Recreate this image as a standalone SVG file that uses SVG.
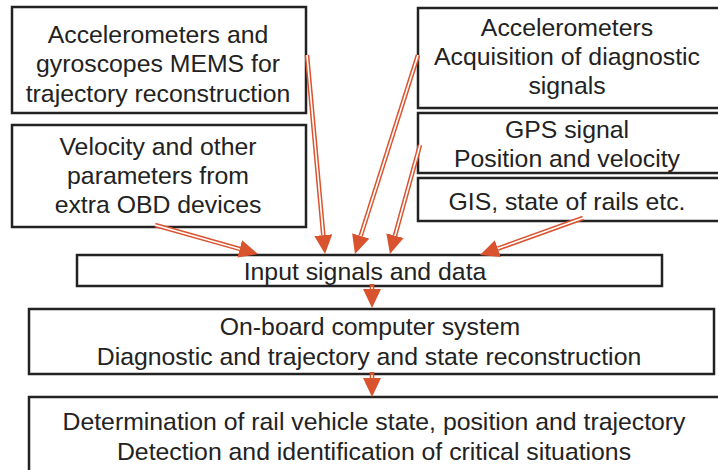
<svg xmlns="http://www.w3.org/2000/svg" width="718" height="470" viewBox="0 0 718 470">
<style>
.box{fill:#fff;stroke:#222;stroke-width:2.5}
text{font-family:"Liberation Sans",Arial,sans-serif;font-size:24.8px;fill:#222;text-anchor:middle}
.sh{fill:none;stroke:#d9532f;stroke-width:4.6}
.in{fill:none;stroke:#fff;stroke-width:1.6}
</style>
<defs>
<marker id="ah" markerUnits="userSpaceOnUse" markerWidth="19" markerHeight="18" refX="0" refY="9" orient="auto">
<path d="M0,0 L19,9 L0,18 z" fill="#d9532f"/>
</marker>
</defs>
<rect width="718" height="470" fill="#fff"/>
<g id="n1"><rect class="box" x="12" y="7" width="294" height="106"/>
<text x="158" y="43">Accelerometers and</text><text x="158" y="72">gyroscopes MEMS for</text><text x="158" y="102">trajectory reconstruction</text></g>
<g id="n2"><rect class="box" x="12" y="125" width="294" height="102"/>
<text x="158" y="155">Velocity and other</text><text x="158" y="184">parameters from</text><text x="158" y="213">extra OBD devices</text></g>
<g id="n3"><rect class="box" x="418" y="8" width="304" height="100"/>
<text x="567" y="36">Accelerometers</text><text x="567" y="65">Acquisition of diagnostic</text><text x="567" y="94">signals</text></g>
<g id="n4"><rect class="box" x="418" y="113" width="304" height="60"/>
<text x="567" y="138">GPS signal</text><text x="567" y="167">Position and velocity</text></g>
<g id="n5"><rect class="box" x="418" y="178" width="304" height="43"/>
<text x="567" y="210">GIS, state of rails etc.</text></g>
<g id="n6"><rect class="box" x="77" y="255" width="585" height="31"/>
<text x="365" y="280">Input signals and data</text></g>
<g id="n7"><rect class="box" x="29" y="309" width="685" height="65"/>
<text x="370" y="335">On-board computer system</text><text x="369" y="365">Diagnostic and trajectory and state reconstruction</text></g>
<g id="n8"><rect class="box" x="29" y="397" width="700" height="100"/>
<text x="374" y="430">Determination of rail vehicle state, position and trajectory</text><text x="374" y="460">Detection and identification of critical situations</text></g>
<g id="connectors">
<path class="sh" marker-end="url(#ah)" d="M155,225 L239.7,248.9"/>
<path class="sh" marker-end="url(#ah)" d="M307,55 L323.3,235.1"/>
<path class="sh" marker-end="url(#ah)" d="M418,55 L360.7,235.9"/>
<path class="sh" marker-end="url(#ah)" d="M420,145 L395,235.7"/>
<path class="sh" marker-end="url(#ah)" d="M583,218 L497.9,248.6"/>
<path class="sh" marker-end="url(#ah)" d="M372,284 L372,289"/>
<path class="sh" marker-end="url(#ah)" d="M372,372 L372,378"/>
<path class="in" d="M155,225 L239.7,248.9"/>
<path class="in" d="M307,55 L323.3,235.1"/>
<path class="in" d="M418,55 L360.7,235.9"/>
<path class="in" d="M420,145 L395,235.7"/>
<path class="in" d="M583,218 L497.9,248.6"/>
<path class="in" d="M372,287 L372,289"/>
<path class="in" d="M372,375 L372,378"/>
</g>
</svg>
